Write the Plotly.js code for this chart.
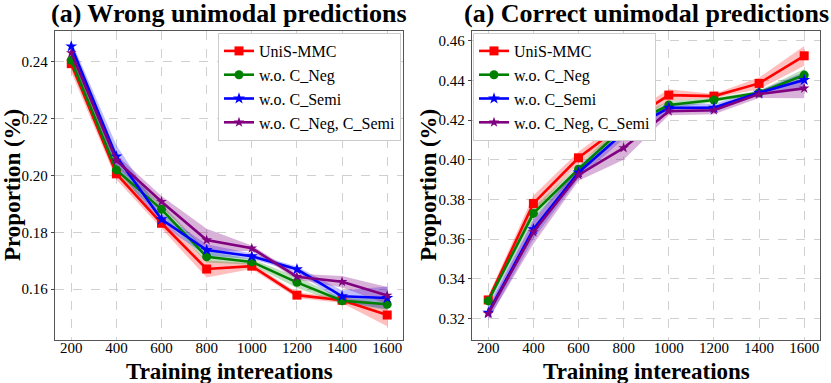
<!DOCTYPE html>
<html>
<head>
<meta charset="utf-8">
<script src="https://cdn.plot.ly/plotly-3.0.1.min.js"></script>
<style>
  html, body { margin: 0; padding: 0; background: #fff; }
  #fig { width: 831px; height: 383px; }
</style>
</head>
<body>
<div id="fig"></div>
<script>
// training iterations (x axis, both panels)
const iters = [200, 400, 600, 800, 1000, 1200, 1400, 1600];
const seriesNames = ["UniS-MMC", "w.o. C_Neg", "w.o. C_Semi", "w.o. C_Neg, C_Semi"];

// left panel : wrong unimodal predictions (mean, band half width)
const wrongUnis   = [0.2394, 0.2006, 0.1832, 0.1671, 0.1681, 0.1579, 0.1561, 0.1509];
const wrongNoNeg  = [0.2406, 0.2020, 0.1881, 0.1714, 0.1696, 0.1624, 0.1559, 0.1547];
const wrongNoSemi = [0.2455, 0.2067, 0.1846, 0.1738, 0.1716, 0.1670, 0.1575, 0.1569];
const wrongNoBoth = [0.2432, 0.2053, 0.1908, 0.1773, 0.1744, 0.1644, 0.1626, 0.1578];
const wrongUnisStd   = [0.003, 0.002, 0.002, 0.003, 0.001, 0.001, 0.001, 0.004];
const wrongNoNegStd  = [0.003, 0.002, 0.002, 0.002, 0.001, 0.002, 0.001, 0.002];
const wrongNoSemiStd = [0.002, 0.004, 0.002, 0.002, 0.001, 0.001, 0.002, 0.004];
const wrongNoBothStd = [0.002, 0.002, 0.002, 0.004, 0.001, 0.001, 0.002, 0.003];

// right panel : correct unimodal predictions
const rightUnis   = [0.3294, 0.3780, 0.4010, 0.4180, 0.4326, 0.4321, 0.4385, 0.4524];
const rightNoNeg  = [0.3289, 0.3730, 0.3953, 0.4161, 0.4276, 0.4301, 0.4338, 0.4427];
const rightNoSemi = [0.3230, 0.3650, 0.3936, 0.4136, 0.4262, 0.4262, 0.4338, 0.4402];
const rightNoBoth = [0.3225, 0.3636, 0.3924, 0.4060, 0.4245, 0.4250, 0.4331, 0.4360];
const rightUnisStd   = [0.002, 0.004, 0.003, 0.003, 0.003, 0.001, 0.003, 0.005];
const rightNoNegStd  = [0.002, 0.003, 0.002, 0.003, 0.002, 0.001, 0.001, 0.003];
const rightNoSemiStd = [0.004, 0.005, 0.003, 0.003, 0.002, 0.002, 0.001, 0.004];
const rightNoBothStd = [0.003, 0.006, 0.003, 0.006, 0.002, 0.002, 0.002, 0.005];

const colors = ["#ff0000", "#008000", "#0000ff", "#800080"];
const bandColors = ["rgba(255,0,0,0.25)", "rgba(0,128,0,0.25)", "rgba(0,0,255,0.25)", "rgba(128,0,128,0.3)"];
const symbols = ["square", "circle", "star", "star"];
const msizes = [9, 9, 9, 8];

const serif = "Liberation Serif";

function addPanel(traces, means, stds, xa, ya, legendId) {
  // shaded bands first so the lines sit on top
  for (let s = 0; s < means.length; s++) {
    let up = [], lo = [];
    for (let i = 0; i < iters.length; i++) {
      up.push(means[s][i] + stds[s][i]);
      lo.push(means[s][i] - stds[s][i]);
    }
    traces.push({
      x: iters.concat(iters.slice().reverse()),
      y: up.concat(lo.reverse()),
      xaxis: xa, yaxis: ya,
      type: "scatter", mode: "lines", fill: "toself",
      fillcolor: bandColors[s], line: {width: 0},
      hoverinfo: "skip", showlegend: false
    });
  }
  for (let s = 0; s < means.length; s++) {
    traces.push({
      x: iters, y: means[s],
      xaxis: xa, yaxis: ya,
      type: "scatter", mode: "lines+markers",
      name: seriesNames[s], legend: legendId,
      line: {color: colors[s], width: 2.6},
      marker: {symbol: symbols[s], size: msizes[s], color: colors[s]}
    });
  }
}

const traces = [];
addPanel(traces, [wrongUnis, wrongNoNeg, wrongNoSemi, wrongNoBoth],
         [wrongUnisStd, wrongNoNegStd, wrongNoSemiStd, wrongNoBothStd], "x", "y", "legend");
addPanel(traces, [rightUnis, rightNoNeg, rightNoSemi, rightNoBoth],
         [rightUnisStd, rightNoNegStd, rightNoSemiStd, rightNoBothStd], "x2", "y2", "legend2");

const W = 831, H = 383;
const px = v => v / W;
const py = v => 1 - v / H;

function xAxis(dom, anchor) {
  return {domain: dom, anchor: anchor, range: [128, 1670],
          tickvals: iters, ticks: "", ticklabelstandoff: -6,
          showline: true, mirror: true, linecolor: "#555", linewidth: 1.3,
          showgrid: true, gridcolor: "#c4c4c4", griddash: "dash", gridwidth: 0.8,
          zeroline: false, tickfont: {family: serif, size: 15}};
}
function yAxis(range, dtick, anchor) {
  return {domain: [py(340), py(31)], anchor: anchor, range: range, dtick: dtick,
          tickformat: ".2f", ticks: "outside", ticklen: 3, tickcolor: "#444",
          showline: true, mirror: true, linecolor: "#555", linewidth: 1.3,
          showgrid: true, gridcolor: "#c4c4c4", griddash: "dash", gridwidth: 0.8,
          zeroline: false, tickfont: {family: serif, size: 15}};
}

const titleFont = {family: serif, size: 26, color: "#000", weight: "bold"};
const axFont = {family: serif, size: 23, color: "#000", weight: "bold"};

const layout = {
  width: W, height: H,
  margin: {l: 0, r: 0, t: 0, b: 0},
  font: {family: serif, size: 15, color: "black"},
  paper_bgcolor: "#fff", plot_bgcolor: "#fff",
  showlegend: true,
  xaxis: xAxis([px(55), px(403)], "y"),
  yaxis: yAxis([0.1421, 0.2509], 0.02, "x"),
  xaxis2: xAxis([px(472), px(820)], "y2"),
  yaxis2: yAxis([0.3092, 0.4649], 0.02, "x2"),
  legend: {x: px(401), xanchor: "right", y: py(33), yanchor: "top",
           bgcolor: "white", bordercolor: "#cccccc", borderwidth: 1,
           font: {family: serif, size: 16}},
  legend2: {x: px(473), xanchor: "left", y: py(33), yanchor: "top",
            bgcolor: "white", bordercolor: "#cccccc", borderwidth: 1,
            font: {family: serif, size: 16}},
  annotations: [
    {text: "<b>(a) Wrong unimodal predictions</b>", xref: "paper", yref: "paper",
     x: px(229), y: py(13), xanchor: "center", yanchor: "middle", showarrow: false, font: titleFont},
    {text: "<b>(a) Correct unimodal predictions</b>", xref: "paper", yref: "paper",
     x: px(646), y: py(13), xanchor: "center", yanchor: "middle", showarrow: false, font: titleFont},
    {text: "<b>Training intereations</b>", xref: "paper", yref: "paper",
     x: px(229), y: py(371), xanchor: "center", yanchor: "middle", showarrow: false, font: axFont},
    {text: "<b>Training intereations</b>", xref: "paper", yref: "paper",
     x: px(646), y: py(371), xanchor: "center", yanchor: "middle", showarrow: false, font: axFont},
    {text: "<b>Proportion (%)</b>", xref: "paper", yref: "paper", textangle: -90,
     x: px(12), y: py(185), xanchor: "center", yanchor: "middle", showarrow: false, font: axFont},
    {text: "<b>Proportion (%)</b>", xref: "paper", yref: "paper", textangle: -90,
     x: px(428), y: py(185), xanchor: "center", yanchor: "middle", showarrow: false, font: axFont}
  ]
};

Plotly.newPlot("fig", traces, layout, {displayModeBar: false, staticPlot: true});
</script>
</body>
</html>
